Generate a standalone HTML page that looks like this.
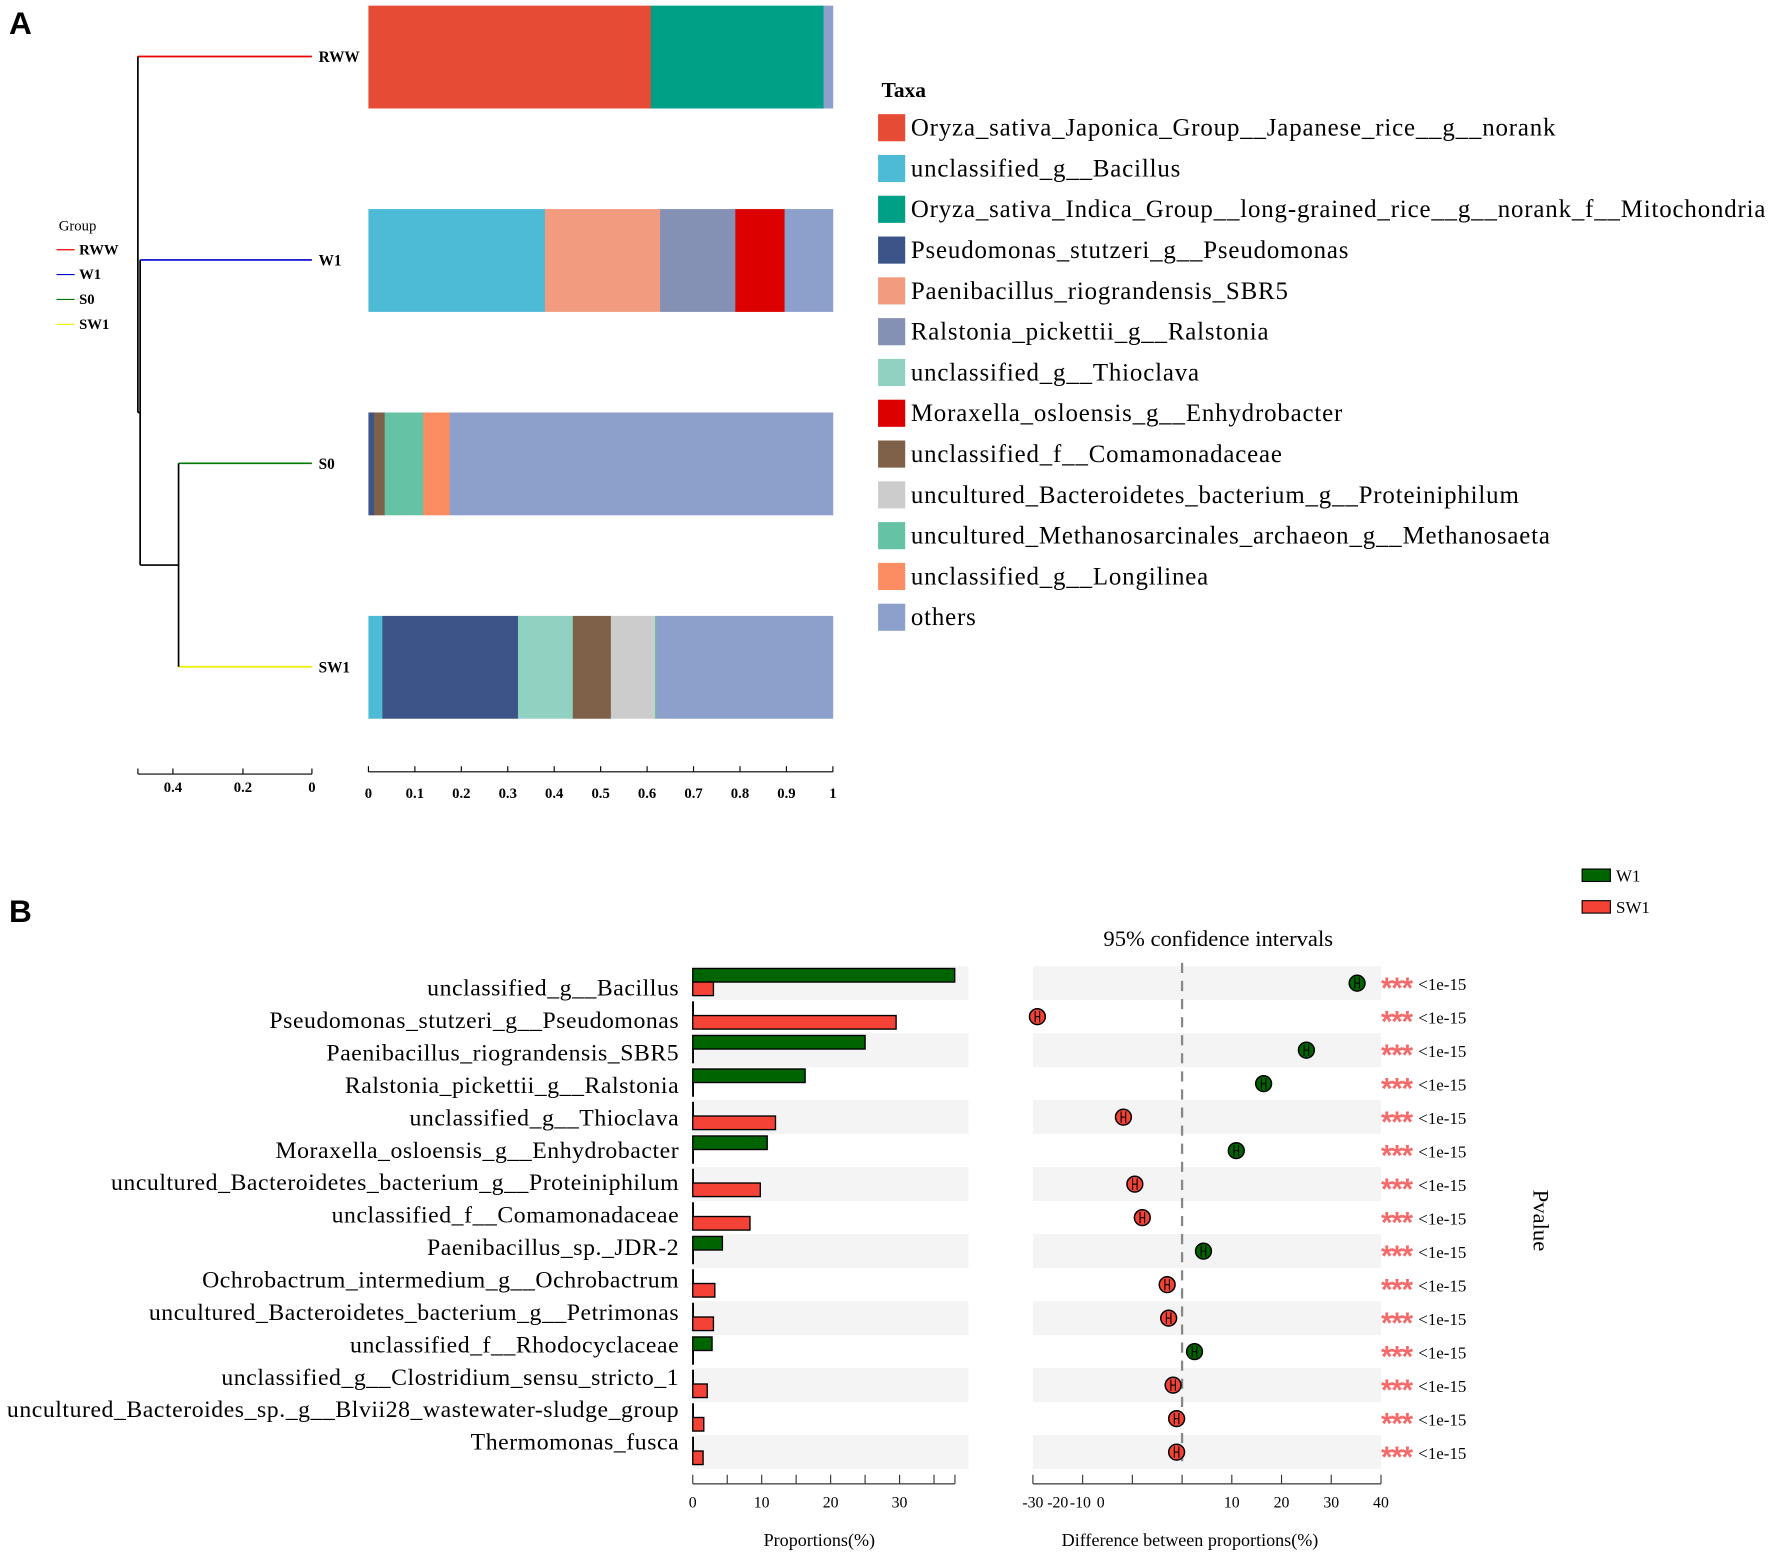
<!DOCTYPE html>
<html><head><meta charset="utf-8"><style>
html,body{margin:0;padding:0;background:#fff;}
svg{display:block;font-family:"Liberation Serif",serif;}
</style></head><body>
<svg id="c" width="1772" height="1555" viewBox="0 0 1568 1376" xmlns="http://www.w3.org/2000/svg">
<text x="8" y="30" font-family="Liberation Sans" font-weight="bold" font-size="28">A</text>
<text x="8" y="816" font-family="Liberation Sans" font-weight="bold" font-size="28">B</text>
<g id="tree">
 <line x1="276" y1="50" x2="122" y2="50" stroke="#e00" stroke-width="1.5"/>
 <line x1="276" y1="230" x2="124" y2="230" stroke="#00c" stroke-width="1.5"/>
 <line x1="276" y1="410" x2="158" y2="410" stroke="#070" stroke-width="1.5"/>
 <line x1="276" y1="590" x2="158" y2="590" stroke="#ee0" stroke-width="1.5"/>
 <line x1="122" y1="50" x2="122" y2="365" stroke="#000" stroke-width="1.5"/>
 <line x1="124" y1="230" x2="124" y2="500" stroke="#000" stroke-width="1.5"/>
 <line x1="122" y1="365" x2="124" y2="365" stroke="#000" stroke-width="1.5"/>
 <line x1="124" y1="500" x2="158" y2="500" stroke="#000" stroke-width="1.5"/>
 <line x1="158" y1="410" x2="158" y2="590" stroke="#000" stroke-width="1.5"/>
 <g font-size="13.5" font-weight="bold">
  <text x="282" y="55">RWW</text>
  <text x="282" y="235">W1</text>
  <text x="282" y="415">S0</text>
  <text x="282" y="595">SW1</text>
 </g>
 <line x1="122" y1="685" x2="276" y2="685" stroke="#000"/>
 <line x1="122" y1="680" x2="122" y2="685" stroke="#000"/>
 <line x1="153" y1="680" x2="153" y2="685" stroke="#000"/>
 <line x1="215" y1="680" x2="215" y2="685" stroke="#000"/>
 <line x1="276" y1="680" x2="276" y2="685" stroke="#000"/>
 <g font-size="13" font-weight="bold" text-anchor="middle">
  <text x="153" y="701">0.4</text><text x="215" y="701">0.2</text><text x="276" y="701">0</text>
 </g>
</g>
<g font-size="13">
 <text x="52" y="204">Group</text>
 <line x1="50" y1="221" x2="66" y2="221" stroke="#e00"/><text x="70" y="225" font-weight="bold">RWW</text>
 <line x1="50" y1="243" x2="66" y2="243" stroke="#00c"/><text x="70" y="247" font-weight="bold">W1</text>
 <line x1="50" y1="265" x2="66" y2="265" stroke="#070"/><text x="70" y="269" font-weight="bold">S0</text>
 <line x1="50" y1="287" x2="66" y2="287" stroke="#ee0"/><text x="70" y="291" font-weight="bold">SW1</text>
</g>
<g id="stack"></g>
<g id="taxaLegend"></g>
<g id="panelB"></g>
</svg>
<script>
const NS="http://www.w3.org/2000/svg";
function mk(tag,attrs,parent,txt){const e=document.createElementNS(NS,tag);for(const k in attrs)e.setAttribute(k,attrs[k]);if(txt!==undefined)e.textContent=txt;parent.appendChild(e);return e;}

// ---------- Panel A data ----------
const taxa=["Oryza_sativa_Japonica_Group__Japanese_rice__g__norank","unclassified_g__Bacillus","Oryza_sativa_Indica_Group__long-grained_rice__g__norank_f__Mitochondria","Pseudomonas_stutzeri_g__Pseudomonas","Paenibacillus_riograndensis_SBR5","Ralstonia_pickettii_g__Ralstonia","unclassified_g__Thioclava","Moraxella_osloensis_g__Enhydrobacter","unclassified_f__Comamonadaceae","uncultured_Bacteroidetes_bacterium_g__Proteiniphilum","uncultured_Methanosarcinales_archaeon_g__Methanosaeta","unclassified_g__Longilinea","others"];
const taxaColors=["#E64B35","#4DBBD5","#00A087","#3C5488","#F39B7F","#8491B4","#91D1C2","#DC0000","#7E6148","#CCCCCC","#66C2A5","#FC8D62","#8DA0CB"];
const samples=["RWW","W1","S0","SW1"];
const valRWW=[0.608,0,0.372,0,0,0,0,0,0,0,0,0,0.02];
const valW1=[0,0.38,0,0,0.248,0.162,0,0.106,0,0,0,0,0.104];
const valS0=[0,0,0,0.012,0,0,0,0,0.023,0,0.083,0.057,0.825];
const valSW1=[0,0.03,0,0.292,0,0,0.118,0,0.082,0.095,0.003,0,0.38];
const sampleVals=[valRWW,valW1,valS0,valSW1];
const stackTicks=[0,0.1,0.2,0.3,0.4,0.5,0.6,0.7,0.8,0.9,1];

const sx=v=>326+v*411;
const rowTop=[5,185,365,545];
const gS=document.getElementById('stack');
samples.forEach((s,i)=>{
  let acc=0;
  sampleVals[i].forEach((v,j)=>{
    if(v<=0)return;
    const r=mk('rect',{x:sx(acc),y:rowTop[i],width:sx(acc+v)-sx(acc)+0.3,height:91,fill:taxaColors[j]},gS);
    
    
    acc+=v;
  });
});
mk('line',{x1:326,y1:683,x2:737,y2:683,stroke:'#000'},gS);
stackTicks.forEach(t=>{
  mk('line',{x1:sx(t),y1:678,x2:sx(t),y2:683,stroke:'#000'},gS);
  const tx=mk('text',{x:sx(t),y:706,'font-size':13,'font-weight':'bold','text-anchor':'middle'},gS,String(t));
  
  
});
const gL=document.getElementById('taxaLegend');
mk('text',{x:780,y:86,'font-size':19,'font-weight':'bold'},gL,'Taxa');
taxa.forEach((t,i)=>{
  const y=113+i*36.1;
  const r=mk('rect',{x:777,y:y-12,width:24,height:24,fill:taxaColors[i]},gL);
  
  
  const tx=mk('text',{x:806,y:y+7,'font-size':22,'letter-spacing':0.75},gL,t);
  
  
});

// ---------- Panel B data ----------
const species=["unclassified_g__Bacillus","Pseudomonas_stutzeri_g__Pseudomonas","Paenibacillus_riograndensis_SBR5","Ralstonia_pickettii_g__Ralstonia","unclassified_g__Thioclava","Moraxella_osloensis_g__Enhydrobacter","uncultured_Bacteroidetes_bacterium_g__Proteiniphilum","unclassified_f__Comamonadaceae","Paenibacillus_sp._JDR-2","Ochrobactrum_intermedium_g__Ochrobactrum","uncultured_Bacteroidetes_bacterium_g__Petrimonas","unclassified_f__Rhodocyclaceae","unclassified_g__Clostridium_sensu_stricto_1","uncultured_Bacteroides_sp._g__Blvii28_wastewater-sludge_group","Thermomonas_fusca"];
const propW1=[38,0,25,16.3,0,10.8,0,0,4.3,0,0,2.8,0,0,0];
const propSW1=[3,29.5,0,0,12,0,9.8,8.3,0,3.2,3,0,2.1,1.6,1.5];
const diff=[35.2,-29.1,25,16.4,-11.8,10.9,-9.5,-8,4.3,-3,-2.7,2.5,-1.8,-1.1,-1.1];
const pvals=Array(15).fill("<1e-15");
const propTicks=[0,10,20,30];
const diffTickLabels=["-30","-20","-10","0","10","20","30","40"];

const g=document.getElementById('panelB');
const px=v=>613+v*6.1;
const dx=v=>1046+v*4.4;
const ry=i=>870+i*29.64;
mk('text',{x:1078,y:837,'font-size':20,'text-anchor':'middle'},g,'95% confidence intervals');
species.forEach((s,i)=>{
  const y=ry(i);
  if(i%2===0){
    mk('rect',{x:613,y:y-15,width:244,height:30,fill:'#f4f4f4'},g);
    mk('rect',{x:914,y:y-15,width:308,height:30,fill:'#f4f4f4'},g);
  }
});
mk('line',{x1:1046,y1:852,x2:1046,y2:1298,stroke:'#888','stroke-width':2,'stroke-dasharray':'9,7'},g);
species.forEach((s,i)=>{
  const y=ry(i);
  const lb=mk('text',{x:601,y:881+i*28.7,'font-size':21,'letter-spacing':0.5,'text-anchor':'end'},g,s);
  
  
  const b1=mk('rect',{x:613,y:y-13,width:Math.max(px(propW1[i])-613,0.5),height:12,fill:'#006400',stroke:'#000','stroke-width':1.2},g);
  
  
  const b2=mk('rect',{x:613,y:y-1,width:Math.max(px(propSW1[i])-613,0.5),height:12,fill:'#f44336',stroke:'#000','stroke-width':1.2},g);
  
  
  const cx=dx(diff[i]);
  const col=diff[i]>0?'#006400':'#f44336';
  const c=mk('circle',{cx:cx,cy:y,r:7,fill:col,stroke:'#000','stroke-width':1.3},g);
  
  
  mk('line',{x1:cx-2,y1:y-5,x2:cx-2,y2:y+5,stroke:'#000','stroke-width':1},g);
  mk('line',{x1:cx+2,y1:y-5,x2:cx+2,y2:y+5,stroke:'#000','stroke-width':1},g);
  mk('line',{x1:cx-2,y1:y,x2:cx+2,y2:y,stroke:'#000','stroke-width':1},g);
  mk('text',{x:1222,y:y+13,'font-size':26,'font-weight':'bold',fill:'#f46a6a','font-family':'Liberation Sans','letter-spacing':-1},g,'***');
  const pv=mk('text',{x:1255,y:y+6,'font-size':15},g,pvals[i]);
  
  
});
// prop axis
mk('line',{x1:613,y1:1313,x2:845,y2:1313,stroke:'#666','stroke-width':1.5},g);
for(let v=0;v<=38;v+=5){mk('line',{x1:px(v),y1:1305,x2:px(v),y2:1313,stroke:'#333'},g);}
mk('line',{x1:845,y1:1305,x2:845,y2:1313,stroke:'#333'},g);
propTicks.forEach(t=>{mk('text',{x:px(t),y:1334,'font-size':14,'text-anchor':'middle'},g,String(t));});
// diff axis
mk('line',{x1:914,y1:1313,x2:1222,y2:1313,stroke:'#666','stroke-width':1.5},g);
for(let k=0;k<8;k++){const x=914+k*44;mk('line',{x1:x,y1:1305,x2:x,y2:1313,stroke:'#333'},g);}
const diffLabelX=[914,936,956,974,1090,1134,1178,1222];
diffTickLabels.forEach((t,k)=>{mk('text',{x:diffLabelX[k],y:1334,'font-size':14,'text-anchor':'middle'},g,t);});
mk('text',{x:725,y:1368,'font-size':16,'text-anchor':'middle'},g,'Proportions(%)');
mk('text',{x:1053,y:1368,'font-size':16,'text-anchor':'middle'},g,'Difference between proportions(%)');
mk('text',{x:1357,y:1080,'font-size':20,'text-anchor':'middle',transform:'rotate(90 1357 1080)'},g,'Pvalue');
// legend B
mk('rect',{x:1400,y:769,width:25,height:11,fill:'#006400',stroke:'#000'},g);
mk('text',{x:1430,y:780,'font-size':15},g,'W1');
mk('rect',{x:1400,y:797,width:25,height:11,fill:'#f44336',stroke:'#000'},g);
mk('text',{x:1430,y:808,'font-size':15},g,'SW1');
</script>
</body></html>
